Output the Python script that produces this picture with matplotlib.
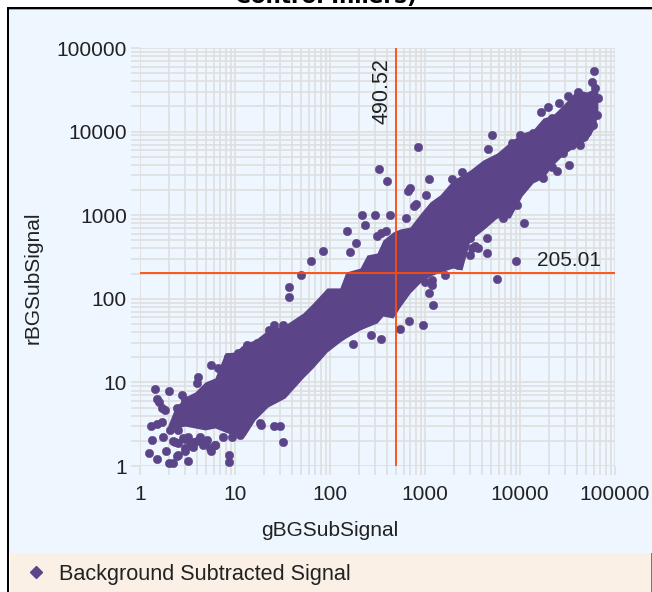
import matplotlib
matplotlib.use('Agg')
import matplotlib.pyplot as plt
from matplotlib.lines import Line2D
from matplotlib.patches import Rectangle
from matplotlib.ticker import LogLocator, NullFormatter, FixedFormatter, FixedLocator

plt.rcParams['font.family'] = ['Liberation Sans', 'DejaVu Sans']

W, H = 652, 592

# the dense part of the cloud: gBGSubSignal with upper / lower rBGSubSignal edge
band_x = [1.97, 2.33, 2.98, 3.79, 4.83, 6.15, 7.85, 10, 12.7, 16.2, 22.2, 33.6, 52, 66.2, 93, 127, 147,
          207, 245, 313, 361, 460, 546, 695, 885, 1130, 1440, 1970, 2450, 2980, 4080, 5730, 7850,
          10500, 13700, 17500, 22200, 28400, 39800, 50700, 61500, 66100]
band_hi = [3.09, 4.94, 6.69, 7.67, 10.1, 11.3, 22.5, 23.1, 29.6, 32.1, 42.4, 48.6, 67.6, 89, 135, 135, 209,
           233, 334, 353, 505, 630, 684, 722, 1030, 1440, 1750, 2640, 3030, 3470, 4570, 5550, 7510,
           9620, 10500, 14500, 15800, 20800, 31500, 29800, 33100, 29800]
band_lo = [2.7, 2.85, 3.0, 2.85, 2.7, 2.85, 2.55, 2.29, 2.29, 3.55, 5.08, 6.51, 11.3, 14.9, 23.1, 30.4, 34,
           42.4, 46, 51.4, 62.2, 58.9, 79.8, 117, 155, 187, 209, 233, 221, 505, 665, 926, 926,
           1700, 2430, 2790, 3980, 5250, 6900, 7900, 11350, 17100]

# single spots outside the dense part
spot_x = [60000, 57000, 32000, 25700, 19500, 16600, 5070, 4600, 850, 330, 400, 1100, 665, 695, 800, 770, 1020,
          218, 300, 430, 235, 150, 390, 345, 310, 190, 162, 630,
          11000, 4500, 4500, 9100, 5700, 1100, 1180, 1180, 2970, 3370, 3100, 3600, 42600, 33000, 24500,
          1200, 680, 950, 550, 270, 345, 175,
          85, 63, 49, 37, 37, 26, 32, 23,
          1.44, 2.0, 1.58, 1.5, 1.7, 1.7, 1.3, 1.5, 1.34, 1.74, 1.24, 1.5, 1.9, 2.0, 2.2, 2.5, 3.2, 3.0,
          5.6, 8.7, 8.7, 5.6, 4.1, 4.0, 2.8, 26, 30, 32, 19,
          2.5, 3.6, 4.6, 6.2, 2.2, 3.0, 4.0, 5.0]
spot_y = [53000, 39000, 26700, 21900, 19600, 17000, 9100, 6200, 6500, 3560, 2570, 2700, 1950, 2110, 1350, 1300, 1740,
          1000, 1000, 1000, 760, 650, 650, 615, 560, 465, 363, 930,
          807, 535, 355, 282, 174, 117, 167, 147, 330, 430, 400, 410, 6900, 4000, 3390,
          85, 54, 49, 44, 37, 33, 29,
          372, 282, 190, 138, 105, 49, 49, 42,
          8.3, 7.9, 5.8, 6.3, 4.9, 3.4, 3.0, 3.2, 2.05, 2.2, 1.43, 1.2, 1.5, 1.08, 1.08, 1.35, 1.15, 1.5,
          1.5, 1.35, 1.12, 16, 11.5, 9.8, 7.1, 3.0, 3.0, 1.95, 3.1,
          1.9, 1.7, 1.8, 1.8, 2.0, 2.1, 2.0, 2.0]

# spots on the rim of the dense part, they give it the rough edge
rim_x = [2.07, 2.5, 2.33, 2.84, 3.2, 3.6, 4.3, 5.1, 6.15, 5.5, 2.98, 2.45, 3.36, 7.5, 9.3, 11.2, 12.7, 18.3,
         1.83, 2.45, 2.98, 6.6, 8.4, 10.8, 13.4, 17, 24.5,
         1920, 2450, 6600, 9300, 2980, 2240, 1620, 1000,
         10000, 13700, 8240, 21700, 40700, 61700, 66100, 64600, 58900, 50700, 35200, 28200, 21700, 17400]
rim_y = [2.7, 2.7, 1.94, 2.16, 2.22, 1.94, 2.22, 2.05, 1.78, 1.64, 1.64, 1.32, 1.78, 2.22, 2.22, 2.35, 3.75, 3.27,
         4.7, 4.94, 6.2, 14.9, 20, 22.6, 28, 29.5, 40,
         2700, 3290, 926, 1320, 537, 252, 193, 159,
         9120, 9550, 7310, 14500, 29500, 33100, 25100, 15800, 12000, 9900, 6900, 5550, 3770, 2790]

cut_x = 490.52
cut_y = 205.01
major_ticks = [1, 10, 100, 1000, 10000, 100000]
tick_labels = ['1', '10', '100', '1000', '10000', '100000']

purple = '#5B4588'
orange = '#FF4A0A'
gridcol = '#DFDFDF'


def box(x0, y0, x1, y1, **kw):
    # pixel box measured from the top left corner
    fig.add_artist(Rectangle((x0 / W, 1 - y1 / H), (x1 - x0) / W, (y1 - y0) / H,
                             transform=fig.transFigure, linewidth=0, **kw))


fig = plt.figure(figsize=(W / 100, H / 100), dpi=100, facecolor='white')

box(8, 8, W, 553, facecolor='#EEF6FF', zorder=-5)
box(10, 553, W - 1, H, facecolor='#FAF0E6', zorder=-5)
box(W - 1, 553, W, H, facecolor='#777777', zorder=-4)
box(7, 7, 9, H, facecolor='black', zorder=-3)
box(7, 7, W, 8.5, facecolor='black', zorder=-3)
box(9, 8.5, W, 9.5, facecolor='#A8A8A8', zorder=-3)

fig.text(0.5, 1 - 3 / H, 'Control Inliers)', ha='center', va='baseline', fontsize=15.5, fontweight='bold',
         family=['DejaVu Sans'], color='black')

ax = fig.add_axes([140 / W, 1 - 466 / H, 475 / W, 418 / H])
ax.patch.set_alpha(0)
ax.set_xscale('log')
ax.set_yscale('log')
ax.set_xlim(1, 100000)
ax.set_ylim(1, 100000)
for s in ax.spines.values():
    s.set_visible(False)

for axis in (ax.xaxis, ax.yaxis):
    axis.set_major_locator(FixedLocator(major_ticks))
    axis.set_major_formatter(FixedFormatter(tick_labels))
    axis.set_minor_locator(LogLocator(base=10, subs=range(2, 10), numticks=12))
    axis.set_minor_formatter(NullFormatter())
ax.tick_params(which='both', length=6.5, width=1.2, color=gridcol, labelsize=15, labelcolor='#222222', pad=3)
ax.tick_params(axis='x', which='both', pad=7)
ax.grid(True, which='both', color=gridcol, linewidth=1.2)
ax.set_axisbelow(True)

ax.fill_between(band_x, band_lo, band_hi, color=purple, linewidth=0, zorder=3)
ax.plot(spot_x, spot_y, ls='none', marker='o', ms=6, mfc=purple, mec=purple, mew=0.4, zorder=3, clip_on=False)
ax.plot(rim_x, rim_y, ls='none', marker='o', ms=6, mfc=purple, mec=purple, mew=0.4, zorder=3, clip_on=False)

ax.axvline(cut_x, color=orange, lw=1.3, zorder=4)
ax.axhline(cut_y, color=orange, lw=1.3, zorder=4)
ax.annotate('490.52', (cut_x, 76000), xytext=(-2, 0), textcoords='offset points', rotation=90,
            ha='right', va='top', fontsize=15.5, color='#222222', zorder=5)
ax.annotate('205.01', (1, cut_y), xycoords=('axes fraction', 'data'), xytext=(-10, 2), textcoords='offset points',
            ha='right', va='bottom', fontsize=15, color='#222222', zorder=5)

ax.set_xlabel('gBGSubSignal', fontsize=15, color='#222222')
ax.xaxis.set_label_coords(0.4, -0.132)
ax.set_ylabel('rBGSubSignal', fontsize=15, color='#222222')
ax.yaxis.set_label_coords(-0.204, 0.45)

handle = Line2D([], [], ls='none', marker='D', ms=6.5, mfc=purple, mec=purple)
fig.legend(handles=[handle], labels=['Background Subtracted Signal'], loc='center left',
           bbox_to_anchor=(25 / W, 1 - 574.5 / H), frameon=False, fontsize=15.6, labelcolor='#222222',
           handlelength=1, handletextpad=0.55, borderpad=0, borderaxespad=0)

fig.savefig('out.png', dpi=100)
